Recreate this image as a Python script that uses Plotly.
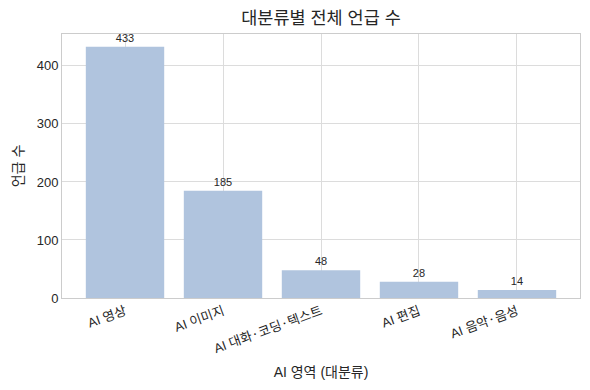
import plotly.graph_objects as go

categories = ["AI 영상", "AI 이미지", "AI 대화·코딩·텍스트", "AI 편집", "AI 음악·음성"]
values = [433, 185, 48, 28, 14]

font_family = "Liberation Sans, Noto Sans CJK KR, sans-serif"
text_color = "#262626"

# render the middle dot with the CJK font (wider), as in the reference
tick_text = [c.replace("·", "<span style='font-family:Noto Sans CJK KR'>·</span>") for c in categories]

fig = go.Figure(go.Bar(
    x=list(range(len(categories))),
    y=values,
    marker=dict(color="#B0C4DE", line=dict(width=0)),
    width=0.8,
    text=[str(v) for v in values],
    textposition="outside",
    textfont=dict(size=11, color=text_color, family=font_family),
    cliponaxis=False,
))

fig.update_layout(
    width=590, height=390,
    margin=dict(l=62, r=10, t=34, b=92),
    paper_bgcolor="white", plot_bgcolor="white",
    font=dict(family=font_family, color=text_color, size=13),
    title=dict(text="대분류별 전체 언급 수", xref="paper", x=0.5, xanchor="center",
               yref="container", y=0.954, yanchor="middle",
               font=dict(size=17.5, color=text_color, family=font_family)),
    showlegend=False,
    bargap=0.2,
)
fig.update_xaxes(
    tickmode="array", tickvals=list(range(len(categories))), ticktext=tick_text,
    range=[-0.643, 4.643], tickangle=-20,
    showgrid=True, gridcolor="#DCDCDC", gridwidth=1,
    showline=True, linecolor="#CCCCCC", linewidth=1, mirror=True,
    ticks="", tickfont=dict(size=13),
    title=dict(text="AI 영역 (대분류)", font=dict(size=14), standoff=11),
    zeroline=False,
)
fig.update_yaxes(
    range=[0, 455], tickvals=[0, 100, 200, 300, 400],
    showgrid=True, gridcolor="#DCDCDC", gridwidth=1,
    showline=True, linecolor="#CCCCCC", linewidth=1, mirror=True,
    ticks="", tickfont=dict(size=13),
    title=dict(text="언급 수", font=dict(size=14), standoff=9),
    zeroline=False,
)

fig.write_html("out.html")
